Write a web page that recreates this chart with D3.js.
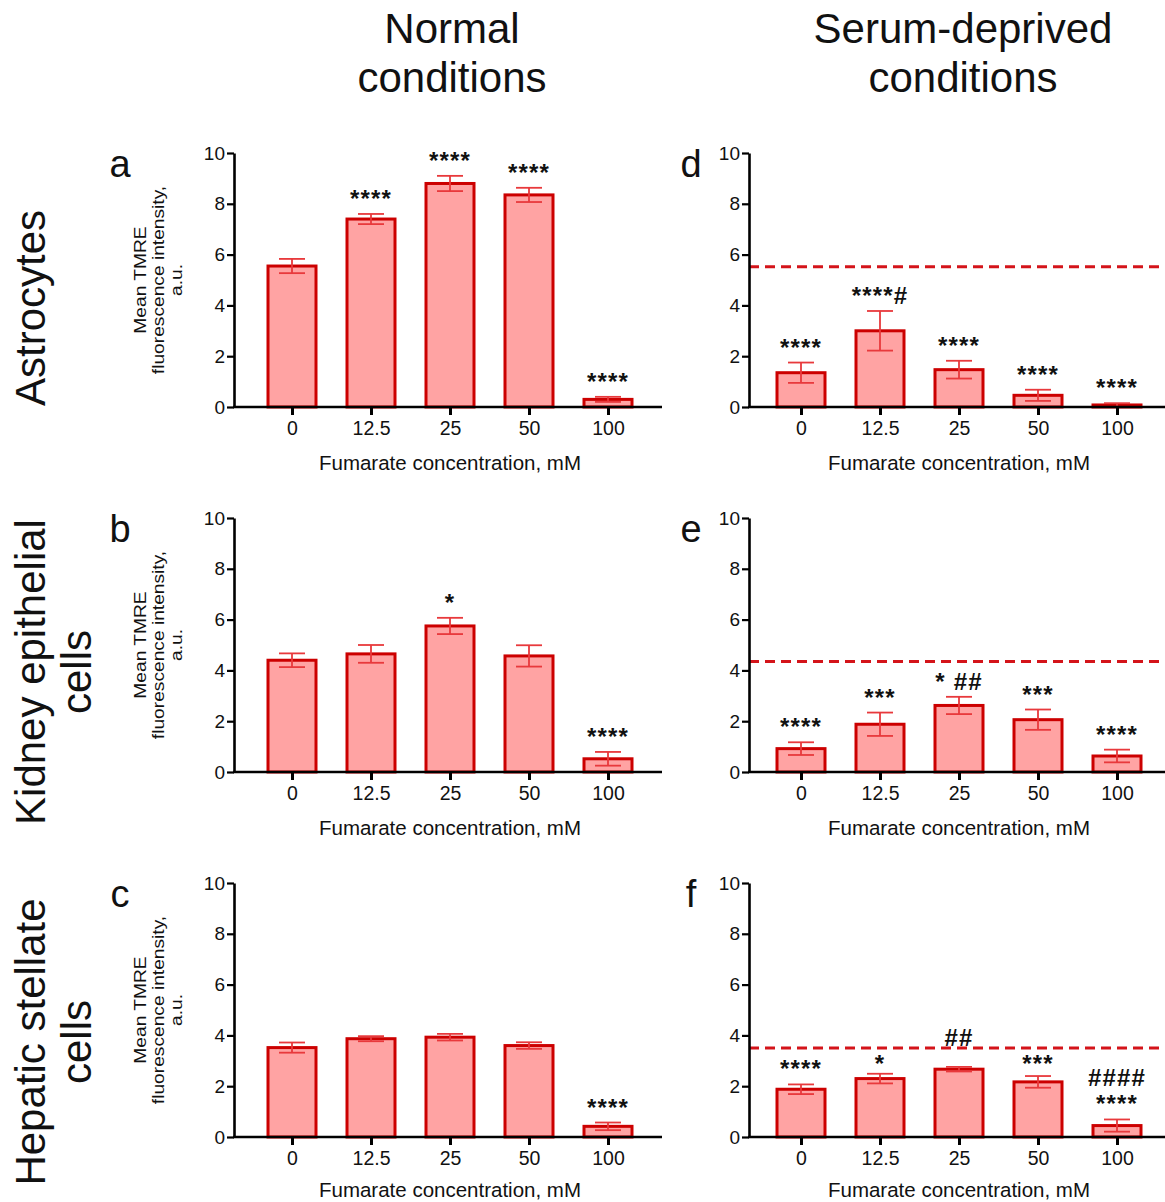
<!DOCTYPE html>
<html><head><meta charset="utf-8">
<script src="https://cdn.jsdelivr.net/npm/d3@7"></script>
<style>
body{margin:0;background:#fff}
svg text{font-family:"Liberation Sans",Arial,Helvetica,sans-serif;fill:#111}
</style>
</head><body>
<svg id="chart" width="1165" height="1202"></svg>
<script>
// ---------- data ----------
const concentrations = ["0", "12.5", "25", "50", "100"];
const yTicks = [0, 2, 4, 6, 8, 10];
const columnTitles = [["Normal", "conditions"], ["Serum-deprived", "conditions"]];
const rowTitles = [["Astrocytes"], ["Kidney epithelial", "cells"], ["Hepatic stellate", "cells"]];
const yAxisTitle = ["Mean TMRE", "fluorescence intensity,", "a.u."];
const xAxisTitle = "Fumarate concentration, mM";

// a: astrocytes, normal
const meanA = [5.55, 7.40, 8.80, 8.35, 0.30];
const errA  = [0.28, 0.20, 0.30, 0.28, 0.10];
const sigA  = ["", "****", "****", "****", "****"];
// d: astrocytes, serum-deprived
const meanD = [1.35, 3.00, 1.47, 0.46, 0.08];
const errD  = [0.40, 0.78, 0.35, 0.22, 0.07];
const sigD  = ["****", "****#", "****", "****", "****"];
const controlD = 5.52;
// b: kidney epithelial, normal
const meanB = [4.40, 4.65, 5.75, 4.57, 0.52];
const errB  = [0.27, 0.35, 0.32, 0.42, 0.27];
const sigB  = ["", "", "*", "", "****"];
// e: kidney epithelial, serum-deprived
const meanE = [0.92, 1.88, 2.62, 2.06, 0.63];
const errE  = [0.25, 0.46, 0.34, 0.40, 0.25];
const sigE  = ["****", "***", "* ##", "***", "****"];
const controlE = 4.35;
// c: hepatic stellate, normal
const meanC = [3.52, 3.87, 3.93, 3.60, 0.42];
const errC  = [0.20, 0.10, 0.13, 0.13, 0.15];
const sigC  = ["", "", "", "", "****"];
// f: hepatic stellate, serum-deprived
const meanF = [1.88, 2.30, 2.67, 2.17, 0.45];
const errF  = [0.19, 0.19, 0.09, 0.23, 0.24];
const sigF  = ["****", "*", "##", "***", "####|****"];
const controlF = 3.50;

// ---------- layout ----------
const svg = d3.select("#chart");
const cols = [
  {axisX: 234, first: 292, step: 79, end: 662, letterX: 120, yTitle: true, titleX: 452},
  {axisX: 749, first: 801, step: 79, end: 1165, letterX: 691, yTitle: false, titleX: 963}
];
const rows = [{y0: 407}, {y0: 772}, {y0: 1137}];
const plotH = 254;

const panels = [
  {r: 0, c: 0, letter: "a", mean: meanA, err: errA, sig: sigA, control: null},
  {r: 0, c: 1, letter: "d", mean: meanD, err: errD, sig: sigD, control: controlD},
  {r: 1, c: 0, letter: "b", mean: meanB, err: errB, sig: sigB, control: null},
  {r: 1, c: 1, letter: "e", mean: meanE, err: errE, sig: sigE, control: controlE},
  {r: 2, c: 0, letter: "c", mean: meanC, err: errC, sig: sigC, control: null},
  {r: 2, c: 1, letter: "f", mean: meanF, err: errF, sig: sigF, control: controlF}
];

const BAR_FILL = "#ffa3a3", BAR_STROKE = "#cc0000", ERR = "#e8393c", DASH = "#d4141a";
const barW = 48, capW = 26;

// column titles
columnTitles.forEach((lines, i) => {
  const t = svg.append("text").attr("text-anchor", "middle")
    .attr("font-size", 42).attr("transform", `translate(${cols[i].titleX},0)`);
  lines.forEach((l, k) => t.append("tspan").attr("x", 0).attr("y", 43 + k * 49).text(l));
});

// row titles
const rowCenters = [308, 672, 1042];
rowTitles.forEach((lines, i) => {
  const t = svg.append("text").attr("text-anchor", "middle").attr("font-size", 42)
    .attr("transform", `translate(0,${rowCenters[i]}) rotate(-90)`);
  lines.forEach((l, k) => t.append("tspan").attr("x", 0).attr("y", 45 + k * 46).text(l));
});

panels.forEach(p => {
  const col = cols[p.c], row = rows[p.r];
  const g = svg.append("g");
  const y = d3.scaleLinear().domain([0, 10]).range([row.y0, row.y0 - plotH]);
  const x = d3.scalePoint().domain(concentrations)
    .range([col.first, col.first + col.step * (concentrations.length - 1)]);

  // control dashed line
  if (p.control !== null) {
    g.append("line").attr("x1", col.axisX).attr("x2", col.end)
      .attr("y1", y(p.control)).attr("y2", y(p.control))
      .attr("stroke", DASH).attr("stroke-width", 3).attr("stroke-dasharray", "10,6");
  }

  // bars
  const data = concentrations.map((c, i) => ({c, m: p.mean[i], e: p.err[i], s: p.sig[i]}));
  g.selectAll("rect.bar").data(data).join("rect").attr("class", "bar")
    .attr("x", d => x(d.c) - barW / 2).attr("width", barW)
    .attr("y", d => y(d.m)).attr("height", d => y(0) - y(d.m))
    .attr("fill", BAR_FILL).attr("stroke", BAR_STROKE).attr("stroke-width", 3);

  // error bars
  const eg = g.selectAll("g.err").data(data).join("g").attr("class", "err")
    .attr("stroke", ERR).attr("stroke-width", 1.8);
  eg.append("line").attr("x1", d => x(d.c)).attr("x2", d => x(d.c))
    .attr("y1", d => y(Math.max(0, d.m - d.e))).attr("y2", d => y(d.m + d.e));
  eg.append("line").attr("x1", d => x(d.c) - capW / 2).attr("x2", d => x(d.c) + capW / 2)
    .attr("y1", d => y(d.m + d.e)).attr("y2", d => y(d.m + d.e));
  eg.filter(d => d.m - d.e > 0.05).append("line")
    .attr("x1", d => x(d.c) - capW / 2).attr("x2", d => x(d.c) + capW / 2)
    .attr("y1", d => y(d.m - d.e)).attr("y2", d => y(d.m - d.e));

  // significance labels (kept clear of the dashed control line)
  data.forEach(d => {
    if (!d.s) return;
    const lines = d.s.split("|");
    const top = y(d.m + d.e);
    lines.forEach((l, k) => {
      let centre = top - 21 - (lines.length - 1 - k) * 20;
      if (p.control !== null) {
        const cy = y(p.control);
        if (Math.abs(centre - cy) < 10) centre = centre > cy ? cy + 10 : cy - 10;
      }
      const onlyHash = !l.includes("*");
      g.append("text").attr("x", x(d.c)).attr("y", centre + (onlyHash ? 8 : 14))
        .attr("text-anchor", "middle").attr("font-size", 24).attr("font-weight", "bold")
        .attr("letter-spacing", 1.2).text(l);
    });
  });

  // y axis
  const ya = g.append("g").attr("transform", `translate(${col.axisX},0)`)
    .call(d3.axisLeft(y).tickValues(yTicks).tickSize(7).tickSizeOuter(0).tickPadding(2));
  ya.select(".domain").attr("stroke", "#000").attr("stroke-width", 2.6);
  ya.selectAll(".tick line").attr("stroke", "#000").attr("stroke-width", 2.2);
  ya.selectAll(".tick text").attr("font-size", 19).attr("fill", "#111")
    .attr("font-family", "Liberation Sans, Arial, sans-serif");

  // x axis
  g.append("line").attr("x1", col.axisX - 1).attr("x2", col.end)
    .attr("y1", row.y0).attr("y2", row.y0).attr("stroke", "#000").attr("stroke-width", 2.6);
  const xa = g.append("g").attr("transform", `translate(0,${row.y0})`)
    .call(d3.axisBottom(x).tickSize(8).tickSizeOuter(0).tickPadding(6));
  xa.select(".domain").remove();
  xa.selectAll(".tick line").attr("stroke", "#000").attr("stroke-width", 3);
  xa.selectAll(".tick text").attr("font-size", 19.5).attr("fill", "#111")
    .attr("font-family", "Liberation Sans, Arial, sans-serif");

  // x axis title
  g.append("text").attr("x", x("25")).attr("y", Math.min(row.y0 + 63, 1197))
    .attr("text-anchor", "middle").attr("font-size", 20.5).text(xAxisTitle);

  // y axis title
  if (col.yTitle) {
    const yc = (y(0) + y(10)) / 2;
    const t = g.append("text").attr("text-anchor", "middle").attr("font-size", 16)
      .attr("transform", `translate(146,${yc}) rotate(-90) scale(1.2,1)`);
    yAxisTitle.forEach((l, k) => t.append("tspan").attr("x", 0).attr("y", k * 18).text(l));
  }

  // panel letter
  g.append("text").attr("x", col.letterX).attr("y", row.y0 - 230)
    .attr("text-anchor", "middle").attr("font-size", 38).text(p.letter);
});
</script>
</body></html>
